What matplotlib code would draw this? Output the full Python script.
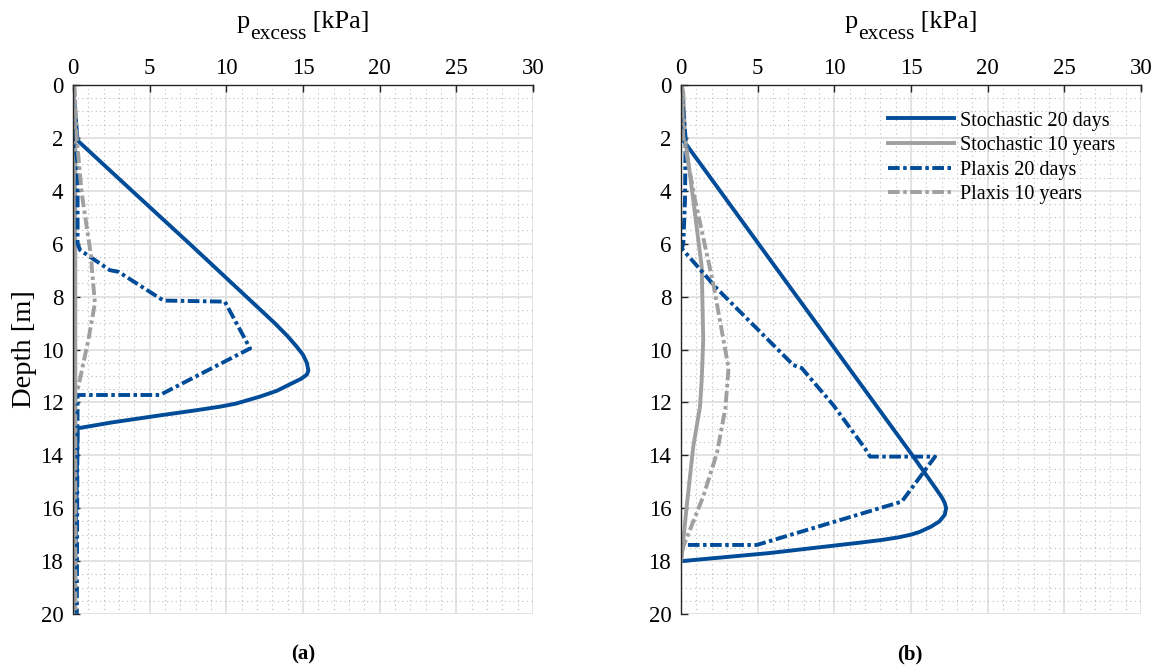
import numpy as np
import matplotlib
matplotlib.use('Agg')
import matplotlib.pyplot as plt
from matplotlib.ticker import MultipleLocator

plt.rcParams['font.family'] = ['Liberation Serif', 'DejaVu Serif']

BLUE = '#004C99'
GREY = '#A0A0A0'

# (a) excess pore pressure profiles [kPa] vs depth [m]
a_s20_depth = [0, 2.1, 4.0, 6.0, 8.0, 9.0, 9.5, 9.9, 10.2, 10.5, 10.8, 10.95, 11.1, 11.3, 11.56, 11.78, 12.05, 12.16, 12.3, 12.48, 12.76, 12.98, 20]
a_s20_p = [0.0, 0.3, 3.85, 7.6, 11.3, 13.15, 14.0, 14.6, 15.0, 15.25, 15.35, 15.25, 14.9, 14.2, 13.3, 12.2, 10.6, 9.6, 8.0, 5.8, 2.5, 0.3, 0.1]

a_s10_depth = [0, 2.0, 20]
a_s10_p = [0.05, 0.15, 0.15]

a_p20_depth = [0, 2.0, 3.0, 6.0, 6.24, 7.0, 7.06, 8.15, 8.19, 9.96, 11.72, 11.72, 20]
a_p20_p = [0.0, 0.1, 0.3, 0.3, 0.46, 2.4, 2.96, 5.9, 9.9, 11.55, 5.67, 0.3, 0.25]

a_p10_depth = [0, 2.0, 4.1, 6.55, 6.87, 8.25, 9.64, 11.4, 11.7, 20]
a_p10_p = [0.1, 0.24, 0.57, 1.2, 1.22, 1.43, 1.0, 0.35, 0.15, 0.15]

# (b)
b_s20_depth = [0, 2.1, 6.0, 10.0, 14.0, 15.3, 15.6, 15.8, 16.0, 16.25, 16.5, 16.7, 16.9, 17.0, 17.1, 17.2, 17.3, 17.4, 17.7, 18.0]
b_s20_p = [0.0, 0.16, 5.05, 10.07, 15.09, 16.67, 17.02, 17.2, 17.29, 17.2, 16.85, 16.3, 15.55, 15.0, 14.2, 13.1, 11.7, 10.2, 5.7, 0.05]

b_s10_depth = [0, 0.3, 1.95, 4.35, 6.87, 9.64, 11.15, 12.16, 13.67, 15.94, 17.8, 18.0]
b_s10_p = [0.05, 0.15, 0.26, 0.8, 1.35, 1.45, 1.35, 1.24, 0.8, 0.37, 0.05, 0.0]

b_p20_depth = [0, 2.0, 4.35, 6.0, 6.18, 7.69, 10.59, 10.7, 12.1, 13.74, 14.05, 14.05, 15.75, 17.39, 17.39]
b_p20_p = [0.0, 0.3, 0.26, 0.15, 0.05, 2.33, 7.33, 7.87, 9.93, 12.0, 12.33, 16.57, 14.4, 4.94, 0.05]

b_p10_depth = [0, 1.95, 4.3, 7.5, 10.7, 12.2, 13.9, 15.56, 17.45, 17.9]
b_p10_p = [0.05, 0.15, 0.9, 2.1, 3.1, 2.9, 2.35, 1.45, 0.15, 0.0]

labels = ['Stochastic 20 days', 'Stochastic 10 years', 'Plaxis 20 days', 'Plaxis 10 years']
dashdot = (3.0, 0.9, 0.9, 0.9)

W, H = 1161, 668
fig = plt.figure(figsize=(W / 100, H / 100), dpi=100)
ax_a = fig.add_axes([73 / W, 1 - 614 / H, 460 / W, 529 / H])
ax_b = fig.add_axes([681 / W, 1 - 614 / H, 460 / W, 529 / H])

panels = [
    (ax_a, [(a_s20_p, a_s20_depth), (a_s10_p, a_s10_depth), (a_p20_p, a_p20_depth), (a_p10_p, a_p10_depth)]),
    (ax_b, [(b_s20_p, b_s20_depth), (b_s10_p, b_s10_depth), (b_p20_p, b_p20_depth), (b_p10_p, b_p10_depth)]),
]

for ax, series in panels:
    styles = [(BLUE, '-'), (GREY, '-'), (BLUE, '-.'), (GREY, '-.')]
    for (p, d), (c, ls), lab in zip(series, styles, labels):
        line, = ax.plot(p, d, color=c, lw=2.8, label=lab)
        if ls == '-.':
            line.set_dashes(dashdot)

    ax.set_xlim(0, 30)
    ax.set_ylim(20, 0)
    ax.xaxis.set_major_locator(MultipleLocator(5))
    ax.xaxis.set_minor_locator(MultipleLocator(1))
    ax.yaxis.set_major_locator(MultipleLocator(2))
    ax.yaxis.set_minor_locator(MultipleLocator(0.5))
    ax.xaxis.tick_top()
    ax.tick_params(which='major', direction='in', length=5, width=1, color='#262626',
                   labelsize=16.5, pad=4, top=True, bottom=False, left=True, right=False)
    ax.tick_params(axis='y', pad=7)
    ax.tick_params(which='minor', length=0)
    ax.grid(which='major', color='#E0E0E0', lw=1.3, ls='-')
    ax.grid(which='minor', color='#BDBDBD', lw=0.8, ls=(0, (1, 3)))
    ax.set_axisbelow(True)
    for side in ['right', 'bottom']:
        ax.spines[side].set_visible(False)
    for side in ['top', 'left']:
        ax.spines[side].set_color('#262626')
        ax.spines[side].set_linewidth(1.0)
    # right-end tick on the top axis
    ax.plot([30, 30], [0, 0.18], color='#262626', lw=1, clip_on=False)

ax_a.set_ylabel('Depth [m]', fontsize=20.5)
ax_a.yaxis.set_label_coords(-0.078, 0.5)

# top axis label with a lowered subscript: p_excess [kPa]
fig.canvas.draw()
renderer = fig.canvas.get_renderer()
for ax in (ax_a, ax_b):
    parts = [('p', 19, 0), ('excess', 15.5, -11), (' [kPa]', 19, 0)]
    texts = [fig.text(0, 0, s, fontsize=fs, va='baseline', ha='left') for s, fs, dy in parts]
    widths = [t.get_window_extent(renderer).width for t in texts]
    bbox = ax.get_window_extent(renderer)
    x = (bbox.x0 + bbox.x1) / 2 - sum(widths) / 2
    base = H - 28
    for t, w, (s, fs, dy) in zip(texts, widths, parts):
        t.set_position((x / W, (base + dy) / H))
        x += w

leg = ax_b.legend(loc='upper right', bbox_to_anchor=(0.945, 0.95), frameon=False,
                  fontsize=14.5, handlelength=3.3, handletextpad=0.3, labelspacing=0.27,
                  borderaxespad=0, borderpad=0)

fig.text(0.261, 0.0195, '(a)', ha='center', va='center', fontsize=15, fontweight='bold')
fig.text(0.784, 0.0195, '(b)', ha='center', va='center', fontsize=15, fontweight='bold')

fig.savefig('out.png', dpi=100)
